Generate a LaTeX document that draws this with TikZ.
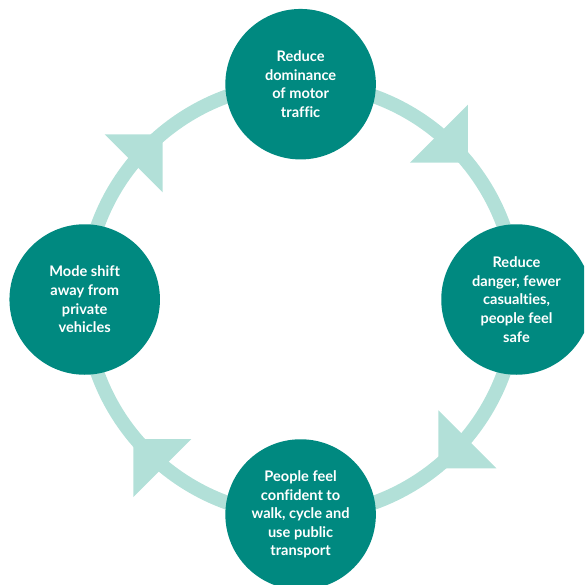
\documentclass[tikz,border=0pt]{standalone}
\usepackage{fontspec}
\setmainfont[Ligatures=NoCommon]{Lato}
\definecolor{teal}{RGB}{0,137,128}
\definecolor{ringc}{RGB}{178,224,216}
\tikzset{
  stage/.style={circle, fill=teal, minimum size=150.5pt, inner sep=0pt, text=white, align=center, font=\fontsize{14.6pt}{18.6pt}\selectfont\bfseries},
  ring/.style={draw=ringc, line width=14pt},
  head/.style={fill=ringc, draw=none}
}
\begin{document}
\begin{tikzpicture}[x=1pt,y=-1pt]
\useasboundingbox (0,0) rectangle (584,585);
\clip (0,0) rectangle (584,585);
\coordinate (c) at (300.6,299.5);
\draw[ring] (c) circle[radius=216pt];
% arrowheads
\coordinate (t1) at (467.8,162.7);
\fill[head] (t1) -- ++(0,-58) -- ++(-58,58) -- cycle;
\coordinate (t2) at (438.3,468.3);
\fill[head] (t2) -- ++(0,-58) -- ++(58,58) -- cycle;
\coordinate (t3) at (133.3,439);
\fill[head] (t3) -- ++(58,0) -- ++(-58,58) -- cycle;
\coordinate (t4) at (162.7,134.3);
\fill[head] (t4) -- ++(-58,0) -- ++(58,58) -- cycle;
% stages
\node[stage] (top) at (300.6,84.2) {Reduce\\dominance\\of motor\\traffic};
\node[stage] (right) at (516.5,299.5) {Reduce\\danger, fewer\\casualties,\\people feel\\safe};
\node[stage] (bottom) at (300.6,514.5) {People feel\\confident to\\walk, cycle and\\use public\\transport};
\node[stage] (left) at (84.7,299.5) {Mode shift\\away from\\private\\vehicles};
\end{tikzpicture}
\end{document}
